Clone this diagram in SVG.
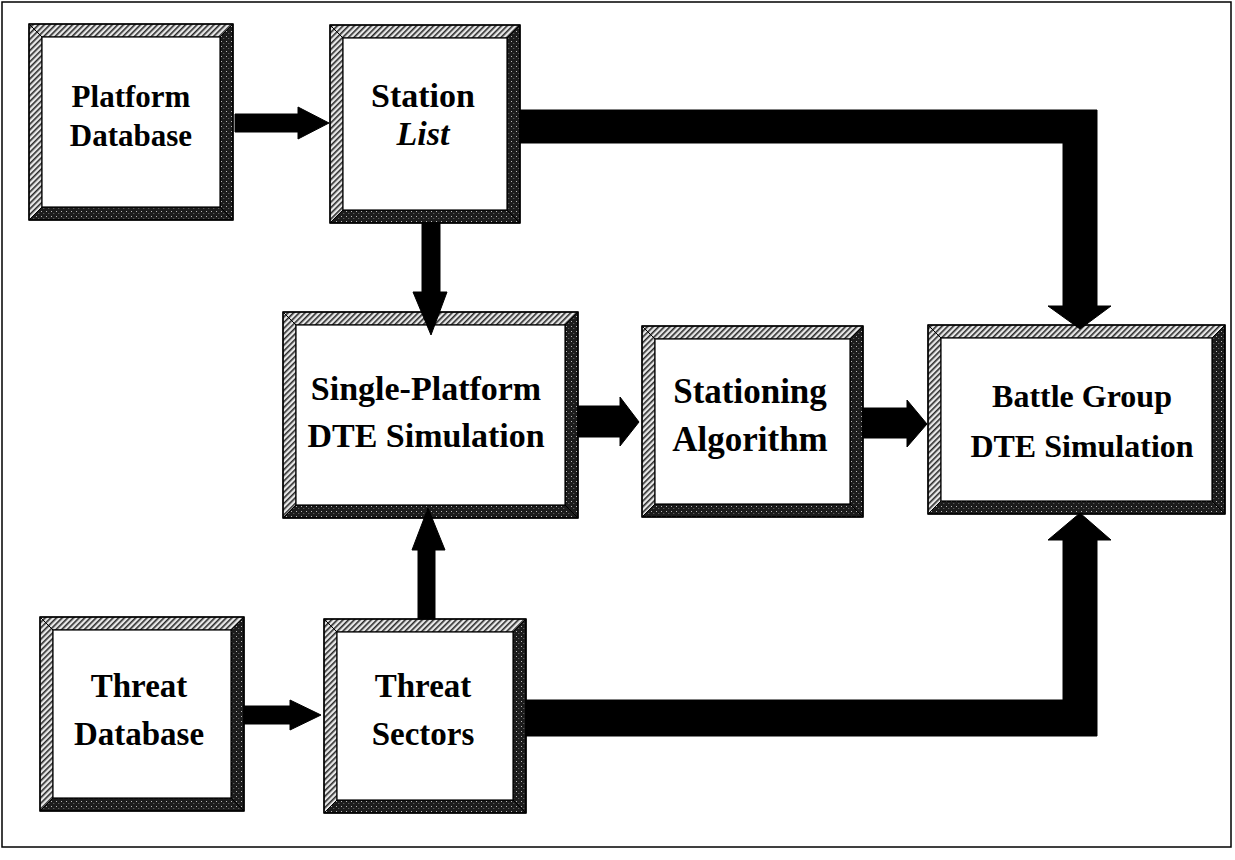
<svg xmlns="http://www.w3.org/2000/svg" width="1235" height="860" viewBox="0 0 1235 860">
<style>
.hatch{fill:url(#hatch);stroke:#000;stroke-width:1}
.dark{fill:url(#dark);stroke:#000;stroke-width:1}
.outer{fill:none;stroke:#000;stroke-width:1.5}
.inner{fill:#fff;stroke:#000;stroke-width:1.2}
.lbl{font-family:"Liberation Serif","Times New Roman",serif;font-weight:bold;fill:#000;text-anchor:middle}
.arrow{fill:#000;stroke:#000;stroke-width:1;stroke-linejoin:miter}
</style>
<defs>
<pattern id="hatch" width="4" height="4" patternUnits="userSpaceOnUse" patternTransform="rotate(45)">
<rect width="4" height="4" fill="#e8e8e8"/>
<rect width="1.6" height="4" fill="#2a2a2a"/>
</pattern>
<pattern id="dark" width="5" height="5" patternUnits="userSpaceOnUse">
<rect width="5" height="5" fill="#1c1c1c"/>
<rect x="1" y="1" width="0.9" height="0.9" fill="#ddd"/>
<rect x="3.4" y="3.2" width="0.8" height="0.8" fill="#999"/>
</pattern>
</defs>
<rect width="1235" height="860" fill="#fff"/>
<rect x="2" y="2" width="1229" height="845" fill="none" stroke="#000" stroke-width="1.5"/>

<g id="platform-database">
<polygon class="hatch" points="29,24 233,24 220,37 42,37"/>
<polygon class="hatch" points="29,24 42,37 42,207 29,220"/>
<polygon class="dark" points="233,24 233,220 220,207 220,37"/>
<polygon class="dark" points="29,220 233,220 220,207 42,207"/>
<rect class="inner" x="42" y="37" width="178" height="170"/>
<rect class="outer" x="29" y="24" width="204" height="196"/>
<text class="lbl" x="131" y="107" font-size="31">Platform</text>
<text class="lbl" x="131" y="146" font-size="31">Database</text>
</g>

<g id="station-list">
<polygon class="hatch" points="330,25 520,25 507,38 343,38"/>
<polygon class="hatch" points="330,25 343,38 343,210 330,223"/>
<polygon class="dark" points="520,25 520,223 507,210 507,38"/>
<polygon class="dark" points="330,223 520,223 507,210 343,210"/>
<rect class="inner" x="343" y="38" width="164" height="172"/>
<rect class="outer" x="330" y="25" width="190" height="198"/>
<text class="lbl" x="423" y="107" font-size="34">Station</text>
<text class="lbl" x="423" y="145" font-size="34" font-style="italic">List</text>
</g>

<g id="single-platform">
<polygon class="hatch" points="283,312 578,312 565,325 296,325"/>
<polygon class="hatch" points="283,312 296,325 296,505 283,518"/>
<polygon class="dark" points="578,312 578,518 565,505 565,325"/>
<polygon class="dark" points="283,518 578,518 565,505 296,505"/>
<rect class="inner" x="296" y="325" width="269" height="180"/>
<rect class="outer" x="283" y="312" width="295" height="206"/>
<text class="lbl" x="426" y="400" font-size="34">Single-Platform</text>
<text class="lbl" x="426" y="447" font-size="34">DTE Simulation</text>
</g>

<g id="stationing-algorithm">
<polygon class="hatch" points="642,326 863,326 850,339 655,339"/>
<polygon class="hatch" points="642,326 655,339 655,504 642,517"/>
<polygon class="dark" points="863,326 863,517 850,504 850,339"/>
<polygon class="dark" points="642,517 863,517 850,504 655,504"/>
<rect class="inner" x="655" y="339" width="195" height="165"/>
<rect class="outer" x="642" y="326" width="221" height="191"/>
<text class="lbl" x="750" y="403" font-size="35">Stationing</text>
<text class="lbl" x="750" y="451" font-size="35">Algorithm</text>
</g>

<g id="battle-group">
<polygon class="hatch" points="928,325 1225,325 1212,338 941,338"/>
<polygon class="hatch" points="928,325 941,338 941,501 928,514"/>
<polygon class="dark" points="1225,325 1225,514 1212,501 1212,338"/>
<polygon class="dark" points="928,514 1225,514 1212,501 941,501"/>
<rect class="inner" x="941" y="338" width="271" height="163"/>
<rect class="outer" x="928" y="325" width="297" height="189"/>
<text class="lbl" x="1082" y="407" font-size="32">Battle Group</text>
<text class="lbl" x="1082" y="457" font-size="32">DTE Simulation</text>
</g>

<g id="threat-database">
<polygon class="hatch" points="40,617 244,617 231,630 53,630"/>
<polygon class="hatch" points="40,617 53,630 53,798 40,811"/>
<polygon class="dark" points="244,617 244,811 231,798 231,630"/>
<polygon class="dark" points="40,811 244,811 231,798 53,798"/>
<rect class="inner" x="53" y="630" width="178" height="168"/>
<rect class="outer" x="40" y="617" width="204" height="194"/>
<text class="lbl" x="139" y="697" font-size="33">Threat</text>
<text class="lbl" x="139" y="745" font-size="33">Database</text>
</g>

<g id="threat-sectors">
<polygon class="hatch" points="324,619 526,619 513,632 337,632"/>
<polygon class="hatch" points="324,619 337,632 337,800 324,813"/>
<polygon class="dark" points="526,619 526,813 513,800 513,632"/>
<polygon class="dark" points="324,813 526,813 513,800 337,800"/>
<rect class="inner" x="337" y="632" width="176" height="168"/>
<rect class="outer" x="324" y="619" width="202" height="194"/>
<text class="lbl" x="423" y="697" font-size="33">Threat</text>
<text class="lbl" x="423" y="745" font-size="33">Sectors</text>
</g>

<g id="connectors">
<polygon class="arrow" points="235,114 298,114 298,107 329,123 298,139 298,132 235,132"/>
<polygon class="arrow" points="520,110 1097,110 1097,306 1111,306 1080,329 1048,306 1063,306 1063,143 520,143"/>
<polygon class="arrow" points="422,223 440,223 440,292 447,292 431,335 413,292 422,292"/>
<polygon class="arrow" points="578,406 620,406 620,397 639,422 620,446 620,437 578,437"/>
<polygon class="arrow" points="863,408 907,408 907,400 927,424 907,447 907,438 863,438"/>
<polygon class="arrow" points="418,619 435,619 435,550 445,550 428,508 412,550 418,550"/>
<polygon class="arrow" points="244,706 290,706 290,700 321,715 290,730 290,724 244,724"/>
<polygon class="arrow" points="526,700 1063,700 1063,540 1048,540 1080,513 1111,540 1097,540 1097,736 526,736"/>
</g>
</svg>
